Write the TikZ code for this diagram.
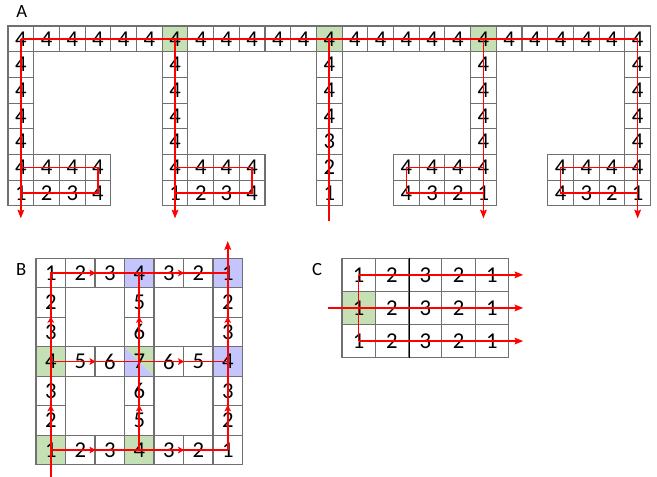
\documentclass[tikz,border=0pt]{standalone}
\usepackage{fontspec}
\setmainfont{Carlito}
\usetikzlibrary{arrows.meta,calc}
\definecolor{gridline}{RGB}{112,112,112}
\definecolor{seedgreen}{RGB}{197,224,180}
\definecolor{seedblue}{RGB}{196,196,255}
\definecolor{tracered}{RGB}{255,0,0}
\tikzset{cell/.style={draw=gridline,line width=0.8pt,inner sep=0pt,fill=white,font=\fontsize{17}{18}\selectfont},
  cellA/.style={cell,minimum width=19.28pt,minimum height=19.28pt},
  cellB/.style={cell,minimum width=22.13pt,minimum height=22.13pt},
  cellC/.style={cell,minimum width=24.98pt,minimum height=24.83pt},
  halfcell/.style={path picture={
    \fill[seedblue] (path picture bounding box.north west) -- (path picture bounding box.south west)
      -- (path picture bounding box.south east) -- cycle;
    \fill[seedgreen] (path picture bounding box.north west) -- (path picture bounding box.north east)
      -- (path picture bounding box.south east) -- cycle;}},
  trail/.style={draw=tracered,line width=1.2pt},
  endtip/.style={trail,-{Stealth[length=6.5pt,width=5pt,inset=1pt]}},
  midtip/.style={trail,-{Stealth[length=4.5pt,width=5pt,inset=1pt]}},
  panel/.style={font=\fontsize{14}{15}\selectfont}}

\begin{document}
\begin{tikzpicture}[x=0.75pt, y=-0.75pt]
\useasboundingbox (0,0) rectangle (657,477);
% A
\node[panel] (lblA) at (21.7,11.7) {A};
\foreach \c in {0,...,24}{
  \pgfmathparse{ifthenelse(mod(\c,6)==0 && \c>0 && \c<24,"seedgreen","white")}
  \let\tint\pgfmathresult
  \node[cellA,fill=\tint] (a-0-\c) at ({8+25.7*(\c+0.5)},{26+25.7*0.5}) {4};
}
\foreach \c in {0,6,18,24}{
  \foreach \r in {1,...,5}
    \node[cellA] (a-\r-\c) at ({8+25.7*(\c+0.5)},{26+25.7*(\r+0.5)}) {4};
  \node[cellA] (a-6-\c) at ({8+25.7*(\c+0.5)},{26+25.7*6.5}) {1};
}
\foreach \r/\v in {1/4,2/4,3/4,4/3,5/2,6/1}
  \node[cellA] (a-\r-12) at ({8+25.7*12.5},{26+25.7*(\r+0.5)}) {\v};
\foreach \c/\v in {1/2,2/3,3/4,7/2,8/3,9/4,15/4,16/3,17/2,21/4,22/3,23/2}{
  \node[cellA] (a-5-\c) at ({8+25.7*(\c+0.5)},{26+25.7*5.5}) {4};
  \node[cellA] (a-6-\c) at ({8+25.7*(\c+0.5)},{26+25.7*6.5}) {\v};
}
\draw[trail] (a-0-0.center) -- (a-0-24.center);
\foreach \c/\d in {0/3,6/9,18/15,24/21}{
  \coordinate (a-out-\c) at ([yshift=-9pt]a-6-\c.south);
  \draw[endtip] (a-0-\c.center) -- (a-out-\c);
  \draw[trail] (a-5-\c.center) -- (a-5-\d.center) -- (a-6-\d.center) -- (a-6-\c.center);
}
\coordinate (a-out-12) at ([yshift=-11pt]a-6-12.south);
\draw[trail] (a-0-12.center) -- (a-out-12);

% B
\node[panel] (lblB) at (21.3,270) {B};
\foreach \c/\v/\f in {0/1/white,1/2/white,2/3/white,3/4/seedblue,4/3/white,5/2/white,6/1/seedblue}
  \node[cellB,fill=\f] (b-0-\c) at ({36+29.5*(\c+0.5)},{258.3+29.5*0.5}) {\v};
\foreach \c/\v/\f in {0/4/seedgreen,1/5/white,2/6/white,4/6/white,5/5/white,6/4/seedblue}
  \node[cellB,fill=\f] (b-3-\c) at ({36+29.5*(\c+0.5)},{258.3+29.5*3.5}) {\v};
\node[cellB,halfcell] (b-3-3) at ({36+29.5*3.5},{258.3+29.5*3.5}) {7};
\foreach \c/\v/\f in {0/1/seedgreen,1/2/white,2/3/white,3/4/seedgreen,4/3/white,5/2/white,6/1/white}
  \node[cellB,fill=\f] (b-6-\c) at ({36+29.5*(\c+0.5)},{258.3+29.5*6.5}) {\v};
\foreach \c/\u/\w in {0/2/3,3/5/6,6/2/3}
  \foreach \r/\v in {1/\u,2/\w,4/\w,5/\u}
    \node[cellB] (b-\r-\c) at ({36+29.5*(\c+0.5)},{258.3+29.5*(\r+0.5)}) {\v};
\coordinate (b-in) at ([yshift=-9.2pt]b-6-0.south);
\coordinate (b-out) at ([yshift=12.5pt]b-0-6.north);
\draw[trail] (b-in) -- (b-0-0.center) -- (b-0-6.center);
\draw[trail] (b-3-0.center) -- (b-3-6.center);
\draw[trail] (b-6-0.center) -- (b-6-6.center);
\draw[trail] (b-6-3.center) -- (b-0-3.center);
\draw[endtip] (b-6-6.center) -- (b-out);
\foreach \c in {0,3,6}
  \foreach \r in {5,2}
    \draw[midtip] (b-\r-\c.center) -- (b-\r-\c.north);
\foreach \r in {0,3,6}
  \foreach \c in {1,4}
    \draw[midtip] (b-\r-\c.center) -- (b-\r-\c.east);

% C
\node[panel] (lblC) at (317,270) {C};
\foreach \r in {0,2}
  \foreach \c/\v in {0/1,1/2,2/3,3/2,4/1}
    \node[cellC] (c-\r-\c) at ({342+33.3*(\c+0.5)},{258.3+33.1*(\r+0.5)}) {\v};
\foreach \c/\v/\f in {0/1/seedgreen,1/2/white,2/3/white,3/2/white,4/1/white}
  \node[cellC,fill=\f] (c-1-\c) at ({342+33.3*(\c+0.5)},{258.3+33.1*1.5}) {\v};
\draw[black,line width=0.8pt] (c-0-1.north east) -- (c-2-1.south east);
\coordinate (c-in) at ([xshift=-10.3pt]c-1-0.west);
\foreach \r in {0,1,2}
  \coordinate (c-out-\r) at ([xshift=10.7pt]c-\r-4.east);
\draw[endtip] (c-in) -- (c-out-1);
\draw[trail] (c-0-0.center) -- (c-2-0.center);
\draw[endtip] (c-0-0.center) -- (c-out-0);
\draw[endtip] (c-2-0.center) -- (c-out-2);
\end{tikzpicture}
\end{document}
